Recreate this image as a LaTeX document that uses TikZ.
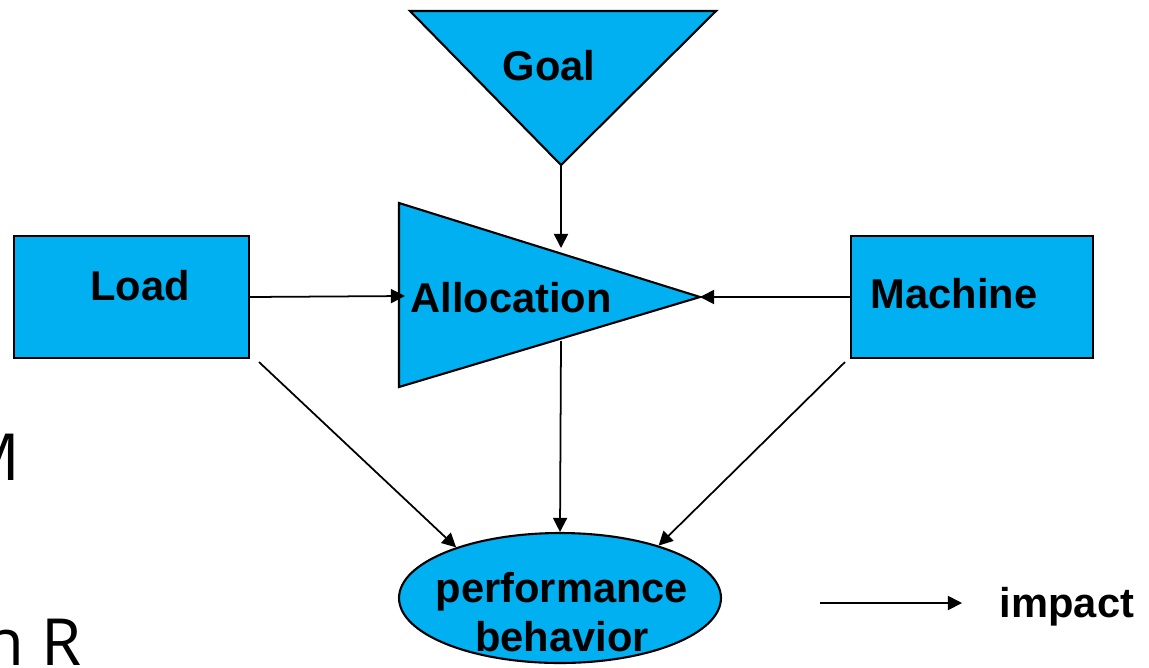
\documentclass[tikz,border=0pt]{standalone}
\usepackage{fontspec}
\setmainfont{Liberation Sans}
\newfontfamily\slidefont{Open Sans}
\usepackage{xcolor}
\usetikzlibrary{calc,arrows.meta,shapes.geometric}
\definecolor{fillblue}{HTML}{00B0F0}
\tikzset{
  blk/.style={draw=black, fill=fillblue, line width=1.2pt},
  box/.style={blk, rectangle, minimum width=4.7cm, minimum height=2.44cm, inner sep=0pt},
  bubble/.style={blk, ellipse, minimum width=6.44cm, minimum height=2.6cm, inner sep=0pt},
  lbl/.style={font=\bfseries\fontsize{23.7}{27.8}\selectfont, inner sep=0pt},
  imp/.style={-{Triangle[length=8pt,width=8pt]}, line width=1pt},
  slide/.style={font=\slidefont\fontsize{37}{40}\selectfont, text=black, inner sep=0pt}
}

\begin{document}
\begin{tikzpicture}[x=0.02cm, y=-0.02cm]
  \useasboundingbox (0,0) rectangle (1149,667);

  % goal and allocation triangles
  \coordinate (g1) at (410,11);
  \coordinate (g2) at (716,11);
  \coordinate (g3) at (561,165);
  \draw[blk] (g1) -- (g2) -- (g3) -- cycle;

  \coordinate (a1) at (399,203);
  \coordinate (a2) at (700,297);
  \coordinate (a3) at (399,387);
  \draw[blk] (a1) -- (a2) -- (a3) -- cycle;
  \coordinate (a-top) at (561,248);
  \coordinate (a-in) at (405,296);
  \coordinate (a-bot) at (561,341);

  % boxes and bubble
  \node[box] (load) at (131.5,297) {};
  \node[box, minimum width=4.84cm] (mach) at (972,297) {};
  \node[bubble] (perf) at (560,598) {};

  \node[lbl, anchor=base] (goal-t) at (549,80) {Goal};
  \node[lbl, anchor=base] (alloc-t) at (511,312) {Allocation};
  \node[lbl, anchor=base] (load-t) at (140,300) {Load};
  \node[lbl, anchor=base] (mach-t) at (954,308) {Machine};
  \node[lbl, align=center] (perf-t) at (562,612) {performance\\behavior};

  % impacts
  \draw[imp] (g3) -- (a-top);
  \draw[imp] (load.east) -- (a-in);
  \draw[imp] (mach.west) -- (a2);
  \draw[imp] (a-bot) -- (perf.north);
  \draw[imp] ($(load.south east)+(9,3)$) -- (perf.154);
  \draw[imp] ($(mach.south west)+(-5,3)$) -- (perf.28);

  % key
  \coordinate (key-a) at (820,603);
  \coordinate (key-b) at (962,603);
  \draw[imp] (key-a) -- (key-b);
  \node[lbl, anchor=base] (key-t) at (1067,617) {impact};

  % cut-off slide text
  \node[slide, anchor=base east] (stray-m) at (21,480) {M};
  \node[slide, anchor=base east] (stray-r) at (82,665) {n R};
\end{tikzpicture}
\end{document}
